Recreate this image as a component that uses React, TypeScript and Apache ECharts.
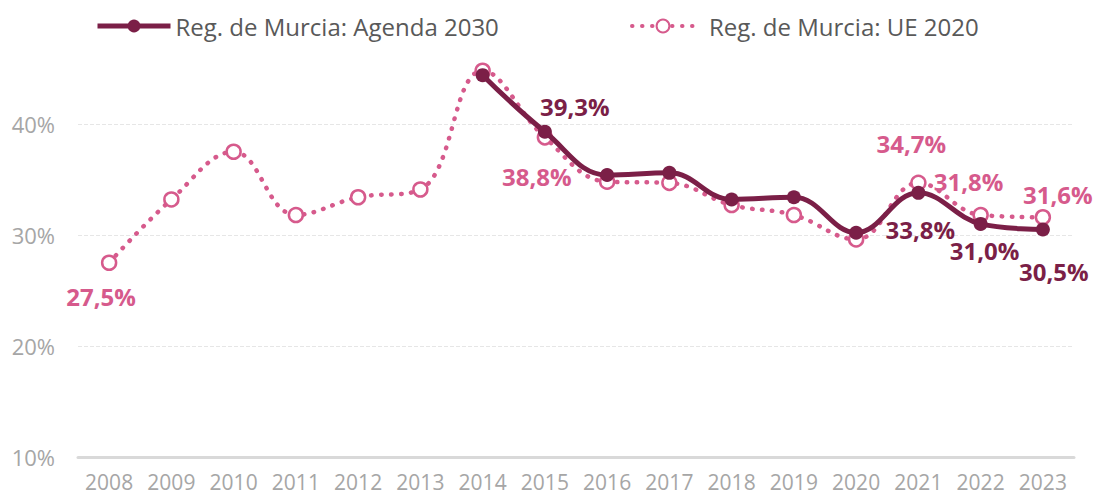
import React, { useEffect, useRef } from "react";
import * as echarts from "echarts";

const years = ["2008","2009","2010","2011","2012","2013","2014","2015","2016","2017","2018","2019","2020","2021","2022","2023"];
const agenda2030 = [null,null,null,null,null,null,44.4,39.3,35.4,35.6,33.2,33.4,30.2,33.8,31.0,30.5];
const ue2020 = [27.5,33.2,37.5,31.8,33.4,34.1,44.8,38.8,34.8,34.7,32.7,31.8,29.6,34.7,31.8,31.6];
const gridValues = [20, 30, 40];
const nameAgenda = "Reg. de Murcia: Agenda 2030";
const nameUE = "Reg. de Murcia: UE 2020";

const DARK = "#7b1f47";
const PINK = "#d65a8c";
const FONT = "'Open Sans', 'Noto Sans', sans-serif";

// label placement per year index (style only)
const agendaLabels: Record<number, any> = {
  7: { position: "top", offset: [30, -1] },
  13: { position: "bottom", offset: [2, 13] },
  14: { position: "bottom", offset: [4, 3] },
  15: { position: "bottom", offset: [11, 18] },
};
const ueLabels: Record<number, any> = {
  0: { position: "bottom", offset: [-8, 8] },
  7: { position: "bottom", offset: [-8, 14] },
  13: { position: "top", offset: [-7, -14] },
  14: { position: "top", offset: [-12, -8] },
  15: { position: "top", offset: [15, 3] },
};

const fmt = (v: number) => v.toFixed(1).replace(".", ",") + "%";

export default function App() {
  const ref = useRef<HTMLDivElement>(null);
  useEffect(() => {
    const chart = echarts.init(ref.current!, null, { renderer: "svg" });
    const mk = (arr: (number | null)[], labels: Record<number, any>, color: string) =>
      arr.map((v, i) =>
        labels[i]
          ? {
              value: v,
              label: {
                show: true,
                color,
                fontFamily: FONT,
                fontWeight: "bold",
                fontSize: 24,
                formatter: (p: any) => fmt(p.value),
                ...labels[i],
              },
            }
          : v
      );
    chart.setOption({
      animation: false,
      legend: [
        {
          data: [{ name: nameAgenda, lineStyle: { width: 5 } }],
          left: 90,
          top: 9,
          itemWidth: 73,
          itemHeight: 16,
          textStyle: { color: "#595959", fontSize: 24, fontFamily: FONT },
        },
        {
          data: [{ name: nameUE, lineStyle: { width: 4 } }],
          left: 625,
          top: 9,
          itemWidth: 62,
          itemHeight: 16,
          textStyle: { color: "#595959", fontSize: 24, fontFamily: FONT, padding: [0, 0, 0, 10] },
        },
      ],
      grid: { left: 78, right: 20, top: 13, bottom: 39, containLabel: false },
      xAxis: {
        type: "category",
        data: years,
        boundaryGap: true,
        axisLine: { show: true, lineStyle: { color: "#d9d9d9", width: 3 } },
        axisTick: { show: false },
        axisLabel: { color: "#a6a6a6", fontSize: 21, fontFamily: FONT, margin: 14, interval: 0 },
      },
      yAxis: {
        type: "value",
        min: 10,
        max: 50,
        interval: 10,
        axisLine: { show: false },
        axisTick: { show: false },
        splitLine: { show: false },
        axisLabel: {
          color: "#a6a6a6",
          fontSize: 22,
          fontFamily: FONT,
          margin: 23,
          formatter: (v: number) => (v >= 50 ? "" : v + "%"),
        },
      },
      series: [
        {
          name: nameUE,
          type: "line",
          data: mk(ue2020, ueLabels, PINK),
          smooth: 0.4,
          symbol: "circle",
          symbolSize: 14,
          z: 2,
          lineStyle: { color: PINK, width: 4.5, type: [0.5, 9.5], cap: "round" },
          itemStyle: { color: "#ffffff", borderColor: PINK, borderWidth: 2.5 },
          markLine: {
            silent: true,
            symbol: "none",
            label: { show: false },
            lineStyle: { color: "#e6e6e6", type: "dashed", width: 1 },
            data: gridValues.map((v) => ({ yAxis: v })),
            z: 0,
          },
        },
        {
          name: nameAgenda,
          type: "line",
          data: mk(agenda2030, agendaLabels, DARK),
          smooth: 0.4,
          symbol: "circle",
          symbolSize: 14,
          z: 3,
          lineStyle: { color: DARK, width: 5 },
          itemStyle: { color: DARK },
        },
      ],
    });
    return () => chart.dispose();
  }, []);
  return <div ref={ref} style={{ width: 1094, height: 496, position: "absolute", left: 0, top: 0 }} />;
}
